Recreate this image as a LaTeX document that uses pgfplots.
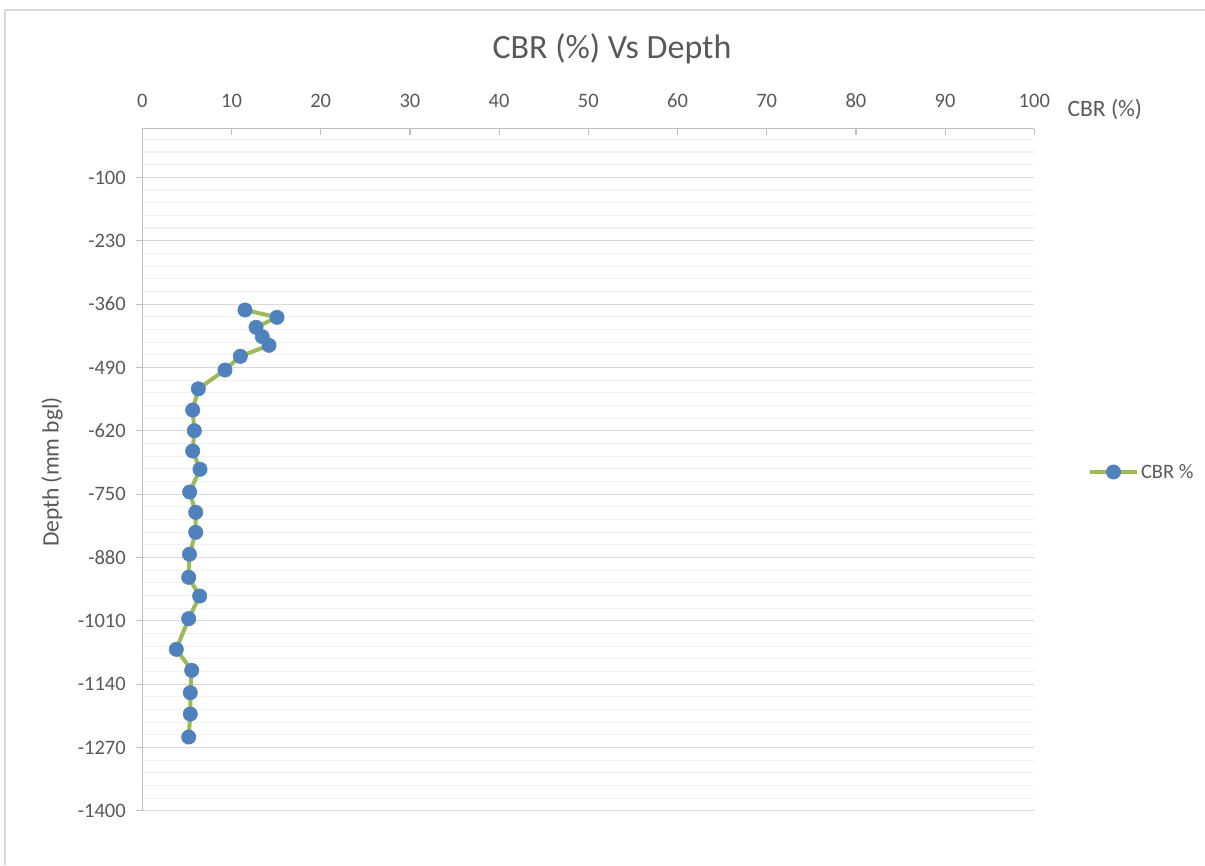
\documentclass[border=0pt]{standalone}
\usepackage{pgfplots}
\pgfplotsset{compat=1.18}
\usepackage{fontspec}
\setmainfont{Carlito}

\definecolor{txt}{HTML}{595959}
\definecolor{axln}{HTML}{BFBFBF}
\definecolor{gmaj}{HTML}{D9D9D9}
\definecolor{gmin}{HTML}{F2F2F2}
\definecolor{cbrline}{HTML}{9BBB59}
\definecolor{cbrmark}{HTML}{4F81BD}
\definecolor{chartframe}{HTML}{D9D9D9}

% CBR (%) against depth below ground level (mm)
\pgfplotstableread{
cbr    depth
11.51  -372.1
15.10  -387.1
12.75  -407.6
13.45  -426.9
14.20  -444.6
10.99  -467.2
9.27   -495.3
6.28   -533.9
5.65   -577.4
5.83   -619.9
5.65   -661.5
6.47   -699.1
5.31   -745.7
5.99   -787.4
5.99   -828.4
5.29   -873.4
5.20   -920.8
6.43   -959.2
5.20   -1005.7
3.81   -1068.6
5.54   -1111.7
5.38   -1157.6
5.38   -1201.4
5.20   -1248.6
}\cbrdata

\begin{document}
\begin{tikzpicture}
\path[use as bounding box] (0,0) rectangle (1205pt,-865pt);
\draw[chartframe, line width=1.5pt] (5pt,-865pt) -- (5pt,-10pt) -- (1205pt,-10pt);
\begin{axis}[
  at={(142.3pt,-128.7pt)}, anchor=north west,
  scale only axis, width=892pt, height=682.1pt,
  xmin=0, xmax=100, ymin=-1400, ymax=0,
  axis x line*=top, axis y line*=left,
  axis line style={axln, line width=1.2pt},
  xtick={0,10,...,100},
  ytick={-1400,-1270,-1140,-1010,-880,-750,-620,-490,-360,-230,-100},
  yticklabels={-1400,-1270,-1140,-1010,-880,-750,-620,-490,-360,-230,-100},
  minor ytick={-1374,-1348,...,-22},
  ymajorgrids, yminorgrids,
  major grid style={gmaj, line width=1.2pt},
  minor grid style={gmin, line width=1.2pt},
  major tick length=6pt, minor tick length=0pt,
  major tick style={axln, line width=1.2pt},
  xtick align=inside, ytick align=outside,
  /pgf/number format/assume math mode=true,
  ticklabel style={font=\fontsize{20.5}{24}\selectfont, text=txt},
  xticklabel style={yshift=18pt},
  yticklabel style={xshift=-7pt},
  title={CBR (\%) Vs Depth},
  title style={font=\fontsize{34}{40}\selectfont, text=txt,
    at={(axis description cs:0.5266,1.108)}, anchor=center},
  xlabel={CBR (\%)},
  xlabel style={font=\fontsize{23.5}{28}\selectfont, text=txt,
    at={(axis description cs:1.0791,1.0274)}, anchor=center},
  ylabel={Depth (mm bgl)},
  ylabel style={font=\fontsize{23.5}{28}\selectfont, text=txt,
    at={(axis description cs:-0.1012,0.4967)}, anchor=center, rotate=0},
  legend style={draw=none, fill=none, inner sep=0pt,
    at={(axis description cs:1.06,0.4967)}, anchor=west,
    font=\fontsize{20.5}{24}\selectfont, text=txt},
  legend image code/.code={%
    \draw[mark repeat=2, mark phase=2, #1]
      plot coordinates {(0pt,0pt) (23.5pt,0pt) (47pt,0pt)};},
]
\addplot[cbrline, line width=4pt, mark=*, mark size=7.2pt,
  mark options={draw=cbrmark, fill=cbrmark, solid, line width=0.5pt}]
  table[x=cbr, y=depth] {\cbrdata};
\addlegendentry{CBR \%}
\end{axis}
\end{tikzpicture}
\end{document}
